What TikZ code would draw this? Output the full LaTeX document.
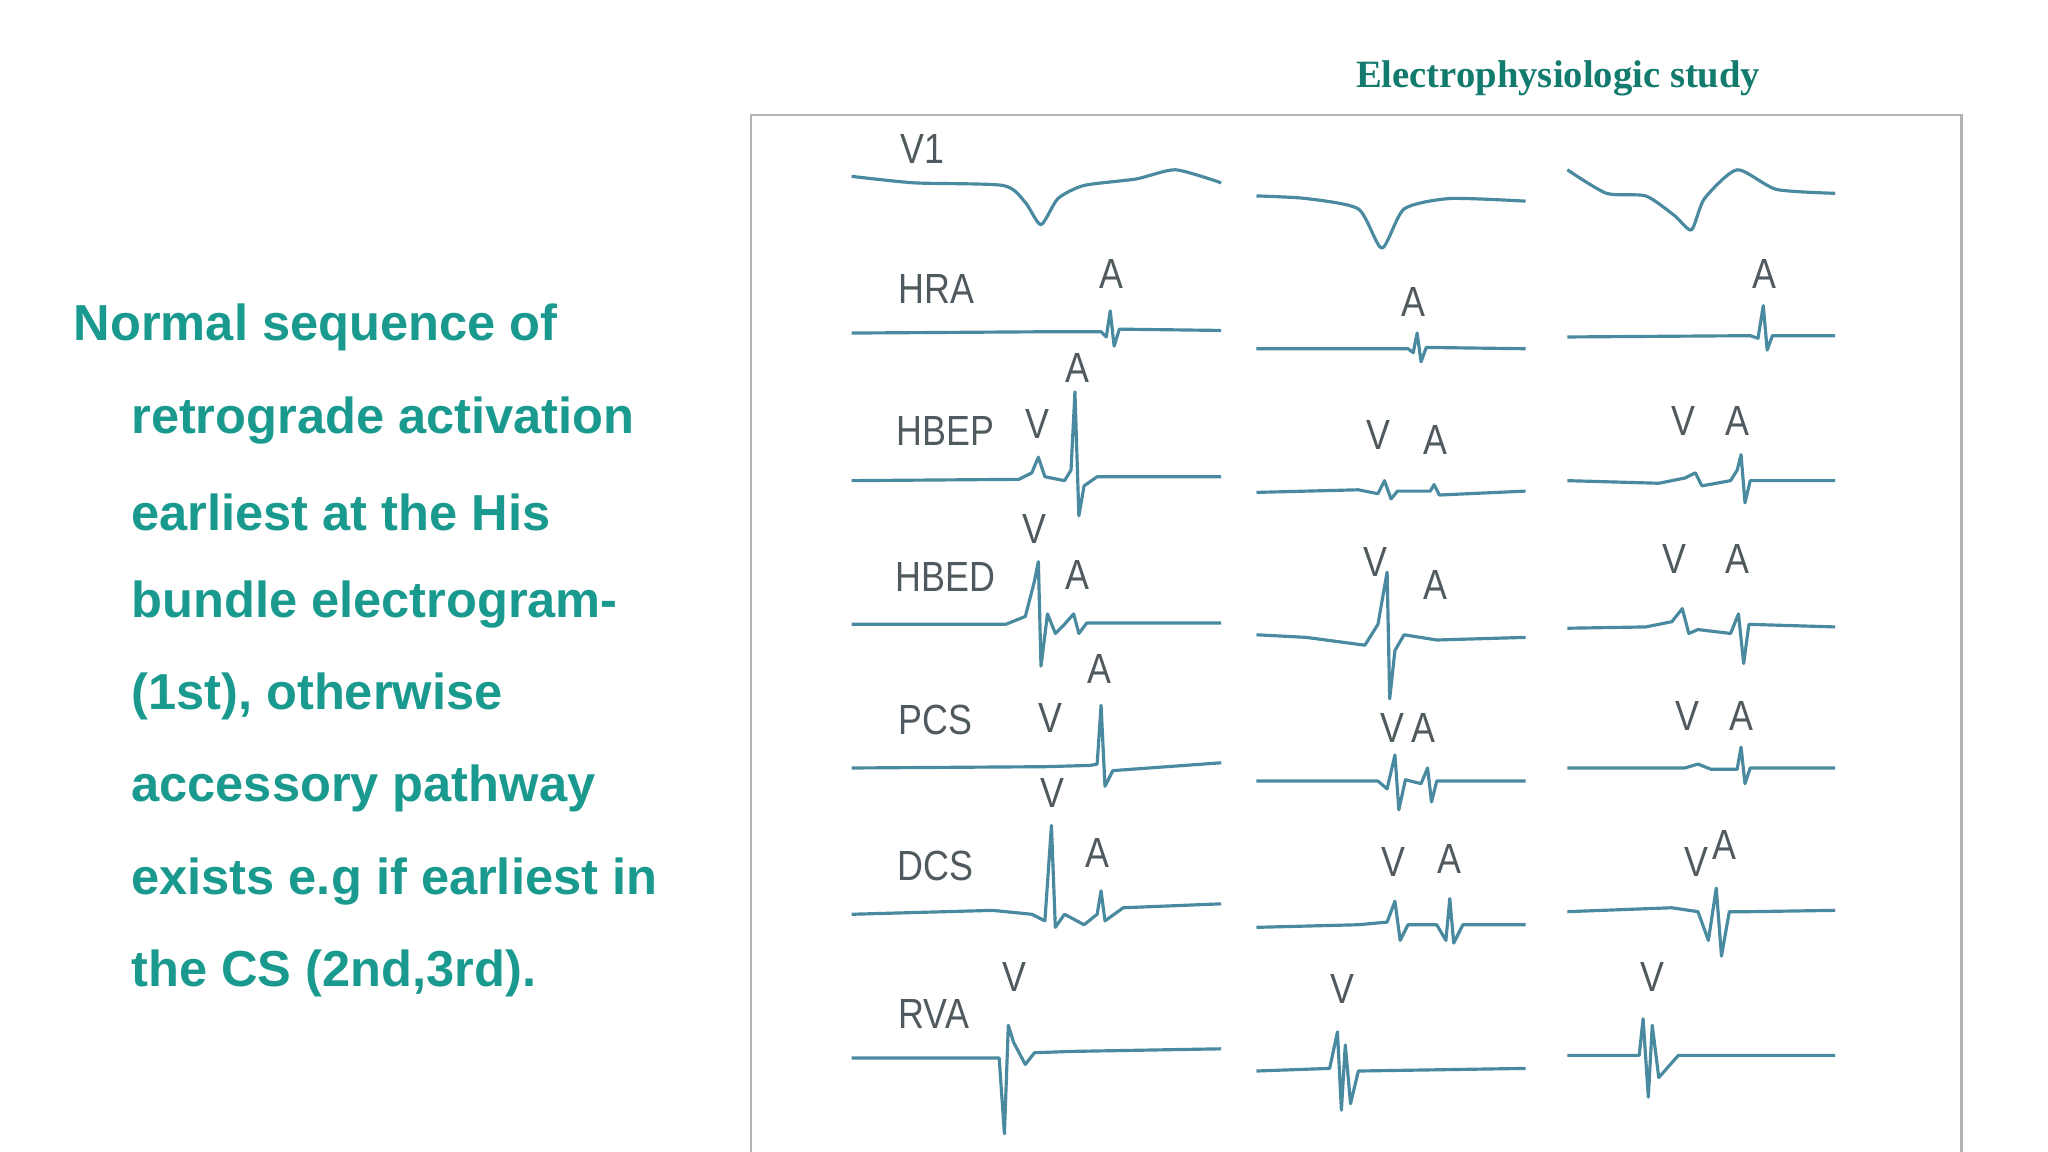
\documentclass[tikz,border=0pt]{standalone}
\usepackage{fontspec}
\setmainfont{Liberation Sans}
\newfontfamily\serifbold{Liberation Serif}
\definecolor{teal1}{HTML}{1A9A8F}
\definecolor{ttl}{HTML}{137A6E}
\definecolor{trc}{HTML}{4A8AA0}
\definecolor{lab}{HTML}{505A5E}
\begin{document}
\begin{tikzpicture}[x=0.01306cm,y=-0.01306cm,
  trace/.style={trc,line width=0.9pt,line join=round},
  lbl/.style={lab,font=\fontsize{12}{12}\selectfont,inner sep=0pt,xscale=0.85},
  bodytxt/.style={teal1,font=\bfseries\fontsize{14.4}{14.4}\selectfont,anchor=west,inner sep=0pt}]
\useasboundingbox (0,0) rectangle (1568,882);
\fill[white] (0,0) rectangle (1568,882);
\node[ttl,font=\serifbold\bfseries\fontsize{11}{11}\selectfont] (title) at (1193,60) {Electrophysiologic study};
\node[bodytxt] (t1) at (56,251) {Normal sequence of};
\node[bodytxt] (t2) at (100,322) {retrograde activation};
\node[bodytxt] (t3) at (100,392) {earliest at the His};
\node[bodytxt] (t4) at (100,463) {bundle electrogram-};
\node[bodytxt] (t5) at (100,533) {(1st), otherwise};
\node[bodytxt] (t6) at (100,604) {accessory pathway};
\node[bodytxt] (t7) at (100,675) {exists e.g if earliest in};
\node[bodytxt] (t8) at (100,745) {the CS (2nd,3rd).};
\draw[gray!60,line width=0.8pt] (575,895) -- (575,88) -- (1502,88) -- (1502,895);
% row labels
\node[lbl] (l1) at (706,114) {V1};
\node[lbl] (l2) at (717,221) {HRA};
\node[lbl] (l3) at (724,330) {HBEP};
\node[lbl] (l4) at (724,442) {HBED};
\node[lbl] (l5) at (716,551) {PCS};
\node[lbl] (l6) at (716,663) {DCS};
\node[lbl] (l7) at (715,776) {RVA};
% V/A labels
\foreach \t/\x/\y in {A/851/210, A/1082/231, A/1351/210,
  A/825/282, V/794/325, V/1055/333, A/1099/337, V/1289/322, A/1330/322,
  V/792/405, A/825/440, V/1053/430, A/1099/448, V/1282/428, A/1330/428,
  A/842/512, V/804/550, V/1066/557, A/1090/557, V/1292/548, A/1333/548,
  V/806/607, A/840/653, V/1067/660, A/1110/658, V/1299/660, A/1320/647,
  V/777/748, V/1028/757, V/1265/748}
  \node[lbl] at (\x,\y) {\t};
% V1
\draw[trace] plot[smooth,tension=0.4] coordinates {(652,135)(700,140)(768,142)(785,155)(797,172)(810,152)(830,142)(870,137)(900,130)(935,140)};
\draw[trace] plot[smooth,tension=0.4] coordinates {(962,150)(1000,152)(1040,160)(1058,190)(1075,160)(1110,152)(1168,154)};
\draw[trace] plot[smooth,tension=0.4] coordinates {(1200,130)(1230,148)(1260,150)(1282,165)(1295,176)(1305,152)(1330,130)(1360,145)(1405,148)};
% HRA
\draw[trace] (652,255)--(800,254)--(843,254)--(847,258)--(850,238)--(853,265)--(857,252)--(935,253);
\draw[trace] (962,267)--(1078,267)--(1082,270)--(1085,255)--(1088,277)--(1092,266)--(1168,267);
\draw[trace] (1200,258)--(1340,257)--(1346,259)--(1350,234)--(1353,268)--(1357,257)--(1405,257);
% HBEP
\draw[trace] (652,368)--(780,367)--(790,362)--(795,350)--(800,365)--(815,368)--(820,360)--(823,300)--(826,395)--(830,372)--(840,365)--(935,365);
\draw[trace] (962,377)--(1040,375)--(1055,378)--(1060,368)--(1065,382)--(1070,376)--(1095,376)--(1098,371)--(1102,379)--(1168,376);
\draw[trace] (1200,368)--(1270,370)--(1290,366)--(1298,362)--(1303,372)--(1325,368)--(1330,360)--(1333,348)--(1336,385)--(1340,368)--(1405,368);
% HBED
\draw[trace] (652,478)--(770,478)--(785,472)--(792,445)--(795,430)--(797,510)--(802,470)--(808,485)--(815,478)--(822,470)--(826,485)--(832,477)--(935,477);
\draw[trace] (962,486)--(1000,488)--(1045,494)--(1055,478)--(1062,438)--(1064,535)--(1068,498)--(1075,486)--(1100,490)--(1168,488);
\draw[trace] (1200,481)--(1260,480)--(1280,476)--(1288,466)--(1293,485)--(1300,482)--(1325,485)--(1331,470)--(1335,508)--(1339,478)--(1405,480);
% PCS
\draw[trace] (652,588)--(800,587)--(835,586)--(840,585)--(843,540)--(846,602)--(852,590)--(935,584);
\draw[trace] (962,598)--(1055,598)--(1062,604)--(1068,578)--(1071,620)--(1076,597)--(1088,600)--(1093,588)--(1096,614)--(1100,598)--(1168,598);
\draw[trace] (1200,588)--(1290,588)--(1300,585)--(1310,589)--(1330,589)--(1333,572)--(1336,600)--(1340,588)--(1405,588);
% DCS
\draw[trace] (652,700)--(760,697)--(790,700)--(800,705)--(805,632)--(808,710)--(815,700)--(830,708)--(840,700)--(843,682)--(846,705)--(860,695)--(935,692);
\draw[trace] (962,710)--(1040,708)--(1062,706)--(1068,690)--(1072,720)--(1078,708)--(1100,708)--(1107,720)--(1110,688)--(1113,722)--(1120,708)--(1168,708);
\draw[trace] (1200,698)--(1280,695)--(1300,698)--(1308,720)--(1314,680)--(1318,732)--(1324,698)--(1340,698)--(1405,697);
% RVA
\draw[trace] (652,810)--(765,810)--(769,868)--(772,785)--(776,798)--(785,815)--(792,806)--(820,805)--(935,803);
\draw[trace] (962,820)--(1018,818)--(1024,790)--(1027,850)--(1030,800)--(1034,845)--(1040,820)--(1168,818);
\draw[trace] (1200,808)--(1255,808)--(1258,780)--(1262,840)--(1265,785)--(1270,825)--(1285,808)--(1405,808);
\end{tikzpicture}
\end{document}
